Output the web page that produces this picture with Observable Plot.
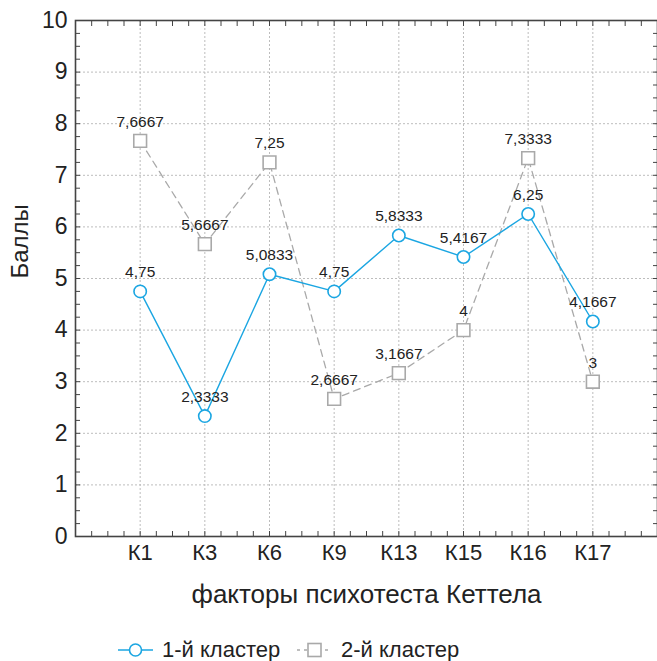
<!DOCTYPE html>
<html>
<head>
<meta charset="utf-8">
<script src="https://cdn.jsdelivr.net/npm/d3@7"></script>
<script src="https://cdn.jsdelivr.net/npm/@observablehq/plot@0.6"></script>
<style>
  html, body { margin: 0; padding: 0; background: #fff; }
  body { width: 657px; font-family: "Liberation Sans", Arial, sans-serif; }
  #legend { height: 36px; position: relative; font-size: 22px; color: #222; }
  .item { position: absolute; top: 14px; height: 22px; display: flex; align-items: center; }
  .item svg { margin-right: 9px; }
</style>
</head>
<body>
<div id="chart"></div>
<div id="legend"></div>
<script>
const categories = ["К1", "К3", "К6", "К9", "К13", "К15", "К16", "К17"];
const cluster1 = [4.75, 2.3333, 5.0833, 4.75, 5.8333, 5.4167, 6.25, 4.1667];
const cluster2 = [7.6667, 5.6667, 7.25, 2.6667, 3.1667, 4, 7.3333, 3];
const seriesNames = ["1-й кластер", "2-й кластер"];
const yTicks = [0, 1, 2, 3, 4, 5, 6, 7, 8, 9, 10];

const c1 = "#1ba6e2";
const c2 = "#a9a9a9";
const fmt = v => String(v).replace(".", ",");

const d1 = categories.map((c, i) => ({pos: i + 1, cat: c, v: cluster1[i]}));
const d2 = categories.map((c, i) => ({pos: i + 1, cat: c, v: cluster2[i]}));
const xMajor = categories.map((c, i) => i + 1);
const xMinor = d3.range(0, categories.length + 1.001, 0.25);
const yMinor = d3.range(0, 10.001, 0.25);

const font = "Liberation Sans, Arial, sans-serif";

const chart = Plot.plot({
  width: 657,
  height: 625,
  marginTop: 20,
  marginBottom: 89,
  marginLeft: 75,
  marginRight: 0,
  style: {fontFamily: font, color: "#222", background: "#fff"},
  x: {type: "linear", domain: [0, categories.length + 1]},
  y: {domain: [0, 10]},
  marks: [
    Plot.gridY(yTicks.slice(1, -1), {stroke: "#bdbdbd", strokeOpacity: 1, strokeDasharray: "2,2"}),
    Plot.gridX(xMajor, {stroke: "#bdbdbd", strokeOpacity: 1, strokeDasharray: "2,2"}),
    Plot.axisY(yMinor, {anchor: "left", tickSize: -5, tickFormat: () => "", label: null, stroke: "#444"}),
    Plot.axisY(yMinor, {anchor: "right", tickSize: -5, tickFormat: () => "", label: null, stroke: "#444"}),
    Plot.axisX(xMinor, {anchor: "bottom", tickSize: -5, tickFormat: () => "", label: null, stroke: "#444"}),
    Plot.axisX(xMinor, {anchor: "top", tickSize: -5, tickFormat: () => "", label: null, stroke: "#444"}),
    Plot.axisY(yTicks, {anchor: "left", tickSize: 0, tickPadding: 8, fontSize: 23, label: null, tickFormat: d => d}),
    Plot.axisX(xMajor, {anchor: "bottom", tickSize: 0, tickPadding: 8, fontSize: 22, label: null, tickFormat: d => categories[d - 1]}),
    Plot.text(["Баллы"], {frameAnchor: "left", rotate: -90, dx: -55, fontSize: 24, fill: "#222"}),
    Plot.text(["факторы психотеста Кеттела"], {frameAnchor: "bottom", dy: 66, fontSize: 26, fill: "#222"}),
    Plot.frame({stroke: "#444", strokeWidth: 1.6}),
    Plot.line(d2, {x: "pos", y: "v", stroke: c2, strokeWidth: 1.3, strokeDasharray: "7,5"}),
    Plot.dot(d2, {x: "pos", y: "v", symbol: "square", r: 7.2, stroke: c2, strokeWidth: 1.6, fill: "#fff"}),
    Plot.line(d1, {x: "pos", y: "v", stroke: c1, strokeWidth: 1.4}),
    Plot.dot(d1, {x: "pos", y: "v", symbol: "circle", r: 6.2, stroke: c1, strokeWidth: 1.6, fill: "#fff"}),
    Plot.text(d2, {x: "pos", y: "v", text: d => fmt(d.v), dy: -19, fontSize: 15.5, fill: "#222"}),
    Plot.text(d1, {x: "pos", y: "v", text: d => fmt(d.v), dy: -19, fontSize: 15.5, fill: "#222"})
  ]
});
document.getElementById("chart").appendChild(chart);

const legend = document.getElementById("legend");
const items = [
  {left: 118, name: seriesNames[0], color: c1, dash: null, symbol: "circle"},
  {left: 297, name: seriesNames[1], color: c2, dash: "3,4", symbol: "square"}
];
for (const it of items) {
  const div = document.createElement("div");
  div.className = "item";
  div.style.left = it.left + "px";
  const sw = d3.create("svg").attr("width", 35).attr("height", 20);
  sw.append("line").attr("x1", 0).attr("x2", 35).attr("y1", 10).attr("y2", 10)
    .attr("stroke", it.color).attr("stroke-width", 1.4).attr("stroke-dasharray", it.dash);
  if (it.symbol === "circle") {
    sw.append("circle").attr("cx", 17.5).attr("cy", 10).attr("r", 6).attr("fill", "#fff").attr("stroke", it.color).attr("stroke-width", 1.6);
  } else {
    sw.append("rect").attr("x", 11).attr("y", 3.5).attr("width", 13).attr("height", 13).attr("fill", "#fff").attr("stroke", it.color).attr("stroke-width", 1.6);
  }
  div.appendChild(sw.node());
  const span = document.createElement("span");
  span.textContent = it.name;
  div.appendChild(span);
  legend.appendChild(div);
}
</script>
</body>
</html>
